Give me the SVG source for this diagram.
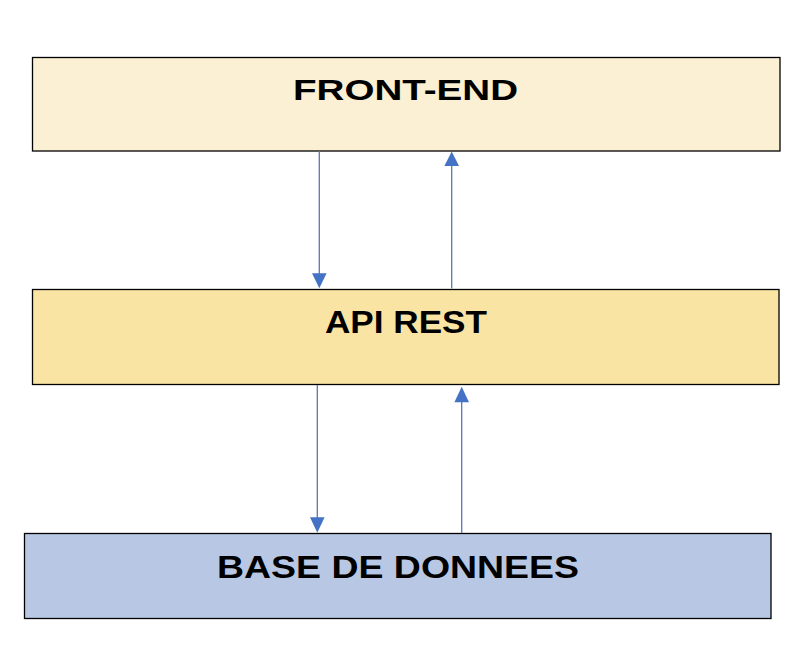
<svg xmlns="http://www.w3.org/2000/svg" width="800" height="652" viewBox="0 0 800 652">
<defs>
<style>
.box{stroke:#000;stroke-width:1.3}
.lbl{font-family:"Liberation Sans",Arial,sans-serif;font-weight:bold;fill:#000;text-anchor:middle}
.conn{stroke:#5876B6;stroke-width:1.3;fill:none}
.head{fill:#4472C4}
</style>
</defs>
<rect width="800" height="652" fill="#fff"/>
<g id="front-end">
<rect class="box" x="32.5" y="57.5" width="747.5" height="93.5" fill="#FBF0D3"/>
<text class="lbl" x="405.5" y="100" font-size="30" textLength="225" lengthAdjust="spacingAndGlyphs">FRONT-END</text>
</g>
<g id="api-rest">
<rect class="box" x="32.5" y="289.5" width="746.5" height="95" fill="#F9E4A4"/>
<text class="lbl" x="406" y="333" font-size="32" textLength="162" lengthAdjust="spacingAndGlyphs">API REST</text>
</g>
<g id="base-de-donnees">
<rect class="box" x="24.5" y="533.5" width="746.5" height="85" fill="#B8C8E4"/>
<text class="lbl" x="398" y="578" font-size="32" textLength="362" lengthAdjust="spacingAndGlyphs">BASE DE DONNEES</text>
</g>
<g id="connectors">
<line class="conn" x1="319.3" y1="151" x2="319.3" y2="275"/>
<polygon class="head" points="312,273.3 326.6,273.3 319.3,288.3"/>
<line class="conn" x1="451.7" y1="288.5" x2="451.7" y2="164"/>
<polygon class="head" points="444.4,166 459,166 451.7,151.5"/>
<line class="conn" x1="317.3" y1="385" x2="317.3" y2="519"/>
<polygon class="head" points="310,517.3 324.6,517.3 317.3,532.7"/>
<line class="conn" x1="461.7" y1="533" x2="461.7" y2="400"/>
<polygon class="head" points="454.4,402.3 469,402.3 461.7,386.7"/>
</g>
</svg>
